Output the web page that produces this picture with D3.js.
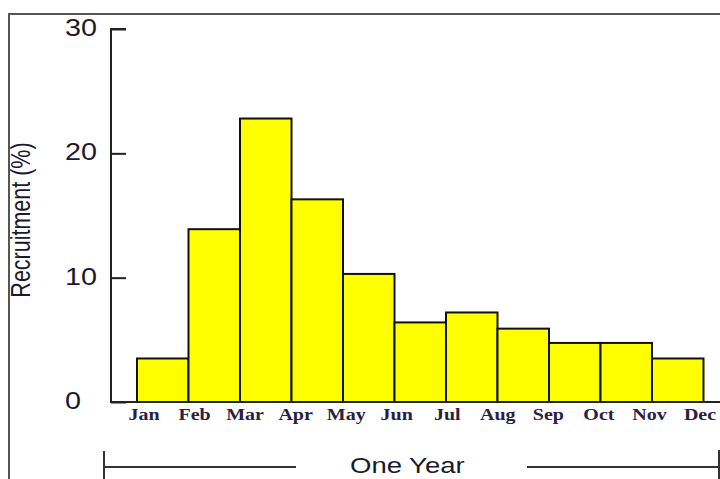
<!DOCTYPE html>
<html><head><meta charset="utf-8">
<script src="https://cdn.jsdelivr.net/npm/d3@7"></script>
<style>html,body{margin:0;padding:0;background:#fff;}svg{display:block;}</style>
</head><body>
<svg id="c" width="720" height="479"></svg>
<script>
const months = ["Jan","Feb","Mar","Apr","May","Jun","Jul","Aug","Sep","Oct","Nov","Dec"];
const barMonths = months.slice(0, 11);
const recruitment = [3.5, 13.9, 22.8, 16.3, 10.3, 6.4, 7.2, 5.9, 4.75, 4.75, 3.5];
const yTicks = [0, 10, 20, 30];
const yLabel = "Recruitment (%)";
const spanLabel = "One Year";

const svg = d3.select("#c");
const SX = 1.25; // horizontal stretch of the reference text

// frame
svg.append("path").attr("d", "M9,479 V14 H720").attr("fill", "none")
  .attr("stroke", "#555").attr("stroke-width", 2);

const y = d3.scaleLinear().domain([0, 30]).range([402, 29]);
const xb = d3.scaleBand().domain(barMonths).range([137, 703.5]).padding(0);
const xl = d3.scalePoint().domain(months).range([144, 700]);

// bars
svg.append("g").selectAll("rect").data(recruitment).join("rect")
  .attr("x", (d, i) => xb(barMonths[i]))
  .attr("y", d => y(d))
  .attr("width", xb.bandwidth())
  .attr("height", d => y(0) - y(d))
  .attr("fill", "#ffff00").attr("stroke", "#111").attr("stroke-width", 2);

// baseline
svg.append("line").attr("x1", 110).attr("x2", 720).attr("y1", y(0)).attr("y2", y(0))
  .attr("stroke", "#222").attr("stroke-width", 2);

// y axis (ticks inward)
const yAxis = d3.axisRight(y).tickValues(yTicks).tickSize(15).tickFormat("");
const ga = svg.append("g").attr("transform", "translate(111,0)").call(yAxis);
ga.select(".domain").attr("stroke", "#222").attr("stroke-width", 2).attr("d", `M15,${y(30)}H0V${y(0)}`);
ga.selectAll(".tick line").attr("stroke", "#222").attr("stroke-width", 2);

// y tick labels
svg.append("g").selectAll("text").data(yTicks).join("text")
  .attr("transform", d => `translate(65,${y(d) + 7}) scale(${SX},1)`)
  .attr("font-family", "Liberation Sans, Arial, sans-serif")
  .attr("font-size", 23).attr("fill", "#1a1a2e")
  .text(d => d);

// y label
svg.append("text")
  .attr("transform", `translate(30,220) scale(${SX},1) rotate(-90)`)
  .attr("text-anchor", "middle")
  .attr("font-family", "Liberation Sans, Arial, sans-serif")
  .attr("font-size", 21.5).attr("fill", "#1a1a2e")
  .text(yLabel);

// month labels
svg.append("g").selectAll("text").data(months).join("text")
  .attr("transform", d => `translate(${xl(d)},420) scale(${SX},1)`)
  .attr("text-anchor", "middle")
  .attr("font-family", "Liberation Serif, Times New Roman, serif")
  .attr("font-weight", "bold")
  .attr("font-size", 16).attr("fill", "#2a2040")
  .text(d => d);

// One Year span bracket
const br = svg.append("g").attr("stroke", "#333").attr("stroke-width", 2).attr("fill", "none");
br.append("path").attr("d", "M104,451 V479 M104,467 H296");
br.append("path").attr("d", "M527,467 H719 M719,450 V479");
svg.append("text")
  .attr("transform", `translate(350,473) scale(${SX},1)`)
  .attr("font-family", "Liberation Sans, Arial, sans-serif")
  .attr("font-size", 22).attr("fill", "#1a1a2e")
  .text(spanLabel);
</script>
</body></html>
